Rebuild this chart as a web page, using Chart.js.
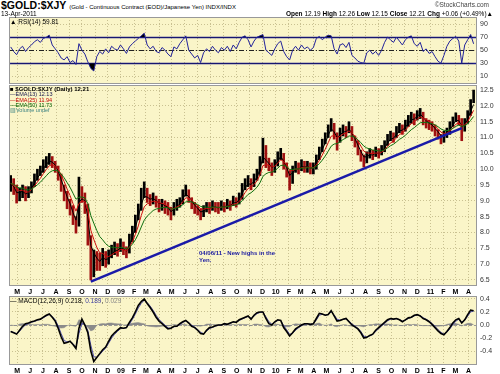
<!DOCTYPE html>
<html>
<head>
<meta charset="utf-8">
<title>$GOLD:$XJY</title>
<script src="https://cdn.jsdelivr.net/npm/chart.js@4.4.1/dist/chart.umd.min.js"></script>
<style>
  html, body { margin: 0; padding: 0; background: #fff; }
  body { width: 500px; height: 374px; position: relative; overflow: hidden;
         font-family: "Liberation Sans", Arial, sans-serif; color: #000; }
  canvas { position: absolute; left: 9px; }
  .t { position: absolute; white-space: nowrap; z-index: 2; }
  .lg { position: absolute; left: 10px; white-space: nowrap; z-index: 2; }
</style>
</head>
<body>
<canvas id="rsi" width="491" height="67" style="top:17px"></canvas>
<canvas id="price" width="491" height="211" style="top:85px"></canvas>
<canvas id="macd" width="491" height="78" style="top:296px"></canvas>

<div class="t" style="left:1px;top:0px;font-size:10px;line-height:10px"><b style="font-size:10.5px">$GOLD:$XJY</b> <span style="font-size:6px">(Gold - Continuous Contract (EOD)/Japanese Yen) INDX/INDX</span></div>
<div class="t" style="left:1px;top:10px;font-size:6.5px;line-height:7px">13-Apr-2011</div>
<div class="t" style="right:11px;top:1px;font-size:6.5px;line-height:7px;color:#444">©StockCharts.com</div>
<div class="t" style="right:7px;top:10px;font-size:6.5px;line-height:7px"><b>Open</b> 12.19 <b>High</b> 12.26 <b>Low</b> 12.15 <b>Close</b> 12.21 <b>Chg</b> +0.06 (+0.49%)▲</div>

<div class="lg" style="top:18px;font-size:6.5px;line-height:7px">▲ RSI(14) 59.81</div>

<div class="lg" style="top:87px;font-size:5.5px;line-height:5.3px">
  <div style="font-size:6px;font-weight:bold">■ $GOLD:$XJY (Daily) 12.21</div>
  <div style="color:#1a1a50">—EMA(13) 12.13</div>
  <div style="color:#c00000">—EMA(25) 11.94</div>
  <div style="color:#006000">—EMA(50) 11.73</div>
  <div style="color:#3a8080">▥Volume undef</div>
</div>

<div class="t" style="left:199px;top:250px;font-size:6px;font-weight:bold;color:#1a1aa0;line-height:7px">04/06/11 - New highs in the<br>Yen.</div>

<div class="lg" style="top:297px;font-size:6.5px;line-height:7px">— MACD(12,26,9) 0.218, <span style="color:#4040a0">0.189</span>, <span style="color:#888">0.029</span></div>

<script>
// weekly bars, first week starting Mon 14-Apr-2008
const firstWeek = '2008-04-14';

const close = [
  9.55, 9.40, 9.10, 9.25, 9.35, 9.15, 9.30, 9.50, 9.70, 9.85,
  9.95, 10.15, 10.25, 10.35, 10.20, 10.05, 9.80, 9.45, 9.20, 8.90,
  8.75, 8.40, 8.20, 9.40, 9.15, 8.95, 8.10, 6.85, 7.20, 7.05,
  7.00, 7.30, 7.10, 7.20, 7.40, 7.50, 7.45, 7.60, 7.45, 7.35,
  7.75, 8.05, 8.40, 8.75, 9.20, 9.35, 9.10, 9.00, 9.10, 8.95,
  8.85, 8.90, 8.80, 8.75, 8.55, 8.80, 8.90, 8.95, 9.20, 9.35,
  9.05, 8.90, 8.75, 8.70, 8.55, 8.70, 8.80, 8.75, 8.85, 8.80,
  8.75, 8.85, 8.80, 8.90, 8.85, 9.00, 8.95, 9.10, 9.40, 9.55,
  9.65, 9.50, 9.70, 9.85, 10.20, 10.70, 10.20, 10.10, 9.95, 10.15,
  10.40, 10.50, 10.15, 9.90, 9.60, 9.95, 10.10, 10.00, 10.15, 10.05,
  10.10, 10.00, 10.05, 10.30, 10.55, 10.80, 11.00, 11.25, 11.45, 11.10,
  10.85, 11.15, 11.25, 11.20, 11.35, 11.00, 10.85, 10.60, 10.40, 10.25,
  10.40, 10.50, 10.45, 10.55, 10.50, 10.60, 10.75, 10.95, 11.05, 11.00,
  11.20, 11.30, 11.25, 11.40, 11.55, 11.65, 11.60, 11.75, 11.80, 11.55,
  11.45, 11.40, 11.35, 11.20, 11.10, 10.95, 11.05, 11.15, 11.35, 11.50,
  11.65, 11.55, 11.20, 11.45, 11.70, 12.05, 12.21
];
const high = [
  9.80, 9.70, 9.50, 9.40, 9.50, 9.45, 9.45, 9.60, 9.85, 10.00,
  10.10, 10.30, 10.40, 10.50, 10.40, 10.25, 10.10, 9.85, 9.50, 9.30,
  9.05, 8.85, 8.50, 9.75, 9.45, 9.25, 8.90, 7.90, 7.45, 7.40,
  7.35, 7.50, 7.40, 7.45, 7.60, 7.70, 7.65, 7.80, 7.70, 7.55,
  7.95, 8.20, 8.55, 8.90, 9.40, 9.60, 9.40, 9.20, 9.25, 9.15,
  9.05, 9.05, 9.00, 8.95, 8.80, 8.95, 9.05, 9.10, 9.35, 9.50,
  9.35, 9.10, 8.95, 8.85, 8.75, 8.85, 8.95, 8.95, 9.00, 8.95,
  8.95, 9.00, 8.95, 9.05, 9.00, 9.15, 9.10, 9.25, 9.55, 9.70,
  9.80, 9.70, 9.85, 10.00, 10.40, 10.98, 10.75, 10.35, 10.20, 10.30,
  10.55, 10.66, 10.50, 10.20, 9.95, 10.10, 10.25, 10.20, 10.30, 10.25,
  10.25, 10.20, 10.20, 10.45, 10.70, 10.95, 11.15, 11.40, 11.60, 11.45,
  11.15, 11.30, 11.40, 11.35, 11.50, 11.35, 11.05, 10.90, 10.60, 10.45,
  10.55, 10.65, 10.60, 10.70, 10.65, 10.75, 10.90, 11.10, 11.20, 11.15,
  11.35, 11.45, 11.40, 11.55, 11.70, 11.80, 11.75, 11.85, 11.92, 11.80,
  11.60, 11.55, 11.50, 11.40, 11.25, 11.10, 11.20, 11.30, 11.50, 11.65,
  11.78, 11.70, 11.60, 11.60, 11.85, 12.20, 12.50
];
const low = [
  9.30, 9.20, 8.93, 9.00, 9.10, 9.00, 9.10, 9.25, 9.45, 9.65,
  9.80, 9.90, 10.05, 10.15, 10.05, 9.90, 9.65, 9.30, 9.00, 8.75,
  8.55, 8.25, 7.98, 8.20, 8.95, 8.60, 7.60, 6.50, 6.60, 6.80,
  6.80, 6.95, 6.90, 7.00, 7.20, 7.30, 7.25, 7.40, 7.30, 7.20,
  7.35, 7.70, 8.00, 8.40, 8.70, 9.10, 8.95, 8.85, 8.90, 8.80,
  8.65, 8.70, 8.60, 8.55, 8.40, 8.55, 8.70, 8.80, 8.90, 9.15,
  8.95, 8.75, 8.60, 8.55, 8.40, 8.50, 8.65, 8.60, 8.70, 8.65,
  8.60, 8.70, 8.65, 8.75, 8.70, 8.85, 8.80, 8.90, 9.05, 9.35,
  9.45, 9.35, 9.45, 9.65, 9.80, 10.20, 10.05, 9.95, 9.80, 9.90,
  10.10, 10.30, 10.00, 9.75, 9.34, 9.55, 9.90, 9.85, 9.95, 9.90,
  9.90, 9.85, 9.85, 10.00, 10.30, 10.55, 10.80, 11.00, 11.20, 10.95,
  10.60, 10.85, 11.05, 11.00, 11.15, 10.90, 10.70, 10.45, 10.25, 10.07,
  10.20, 10.35, 10.30, 10.40, 10.35, 10.45, 10.55, 10.75, 10.90, 10.85,
  11.00, 11.15, 11.10, 11.20, 11.35, 11.45, 11.40, 11.55, 11.60, 11.40,
  11.30, 11.25, 11.20, 11.05, 10.95, 10.80, 10.85, 11.00, 11.10, 11.35,
  11.50, 11.40, 10.90, 11.20, 11.45, 11.70, 12.10
];
const rsi = [
  55, 48, 43, 52, 56, 48, 54, 58, 63, 66,
  62, 68, 70, 73, 58, 52, 46, 38, 35, 40,
  31, 34, 28, 60, 50, 44, 32, 22, 18, 40,
  48, 44, 52, 46, 56, 52, 50, 58, 52, 45,
  55, 60, 64, 68, 72, 76, 58, 52, 56, 48,
  46, 54, 50, 44, 40, 55, 52, 60, 66, 72,
  50, 44, 38, 42, 31, 46, 52, 48, 56, 50,
  46, 54, 50, 56, 48, 58, 52, 62, 70, 72,
  66, 55, 64, 70, 72, 74, 50, 46, 42, 52,
  60, 64, 48, 40, 35, 50, 56, 50, 58, 52,
  55, 50, 54, 68, 71, 66, 70, 73, 72, 52,
  44, 58, 60, 54, 62, 42, 38, 33, 31, 30,
  46, 50, 44, 48, 42, 50, 62, 70, 66, 62,
  70, 64, 58, 66, 70, 72, 60, 56, 62, 48,
  52, 45, 48, 40, 33, 30, 42, 56, 64, 68,
  71, 64, 30, 58, 66, 74, 59.81
];
const macd = [
  -0.10, -0.12, -0.14, -0.08, -0.02, 0.02, 0.03, 0.05, 0.06, 0.08,
  0.09, 0.12, 0.15, 0.17, 0.12, 0.06, -0.05, -0.18, -0.28, -0.27,
  -0.25, -0.30, -0.36, -0.05, 0.09, 0.00, -0.12, -0.40, -0.56, -0.50,
  -0.44, -0.38, -0.34, -0.25, -0.17, -0.12, -0.08, -0.04, -0.05, -0.04,
  0.04, 0.11, 0.20, 0.30, 0.36, 0.40, 0.33, 0.27, 0.20, 0.12,
  0.06, 0.02, -0.02, -0.06, -0.05, -0.02, -0.02, 0.02, 0.05, 0.07,
  0.03, -0.02, -0.04, -0.08, -0.13, -0.14, -0.08, -0.04, -0.03, -0.01,
  0.00, 0.00, 0.02, 0.01, 0.03, 0.05, 0.04, 0.08, 0.10, 0.12,
  0.14, 0.09, 0.15, 0.19, 0.20, 0.20, 0.10, 0.02, 0.00, 0.05,
  0.08, 0.07, -0.04, -0.10, -0.17, -0.12, -0.06, -0.03, 0.00, 0.02,
  0.02, 0.01, 0.02, 0.10, 0.18, 0.17, 0.15, 0.16, 0.22, 0.14,
  0.06, 0.07, 0.09, 0.10, 0.05, 0.00, -0.03, -0.06, -0.12, -0.20,
  -0.19, -0.16, -0.14, -0.08, -0.04, 0.00, 0.04, 0.08, 0.10, 0.09,
  0.10, 0.08, 0.05, 0.08, 0.11, 0.12, 0.15, 0.16, 0.14, 0.10,
  0.08, 0.05, 0.01, -0.04, -0.09, -0.13, -0.15, -0.10, -0.04, 0.03,
  0.08, 0.10, 0.03, 0.08, 0.16, 0.23, 0.218
];

// trendline drawn on the price panel
const trendDates = ['2008-10-22', '2011-03-16'];
const trendValues = [6.45, 11.30];

const monthLabels = ['M','J','J','A','S','O','N','D','09','F','M','A','M','J','J','A','S','O','N','D',
                     '10','F','M','A','M','J','J','A','S','O','N','D','11','F','M','A'];
const priceTicks = [6.5, 7.0, 7.5, 8.0, 8.5, 9.0, 9.5, 10.0, 10.5, 11.0, 11.5, 12.0, 12.5];
const rsiTicks = [10, 30, 50, 70, 90];
const macdTicks = [-0.4, -0.2, 0.0, 0.2, 0.4];

// ---- helpers
const day0 = Date.parse(firstWeek);
const toDay = s => (Date.parse(s) - day0) / 864e5;
const weekX = close.map((_, i) => 7 * i + 2);
const monthDays = monthLabels.map((_, k) => (Date.UTC(2008, 4 + k, 1) - day0) / 864e5);
const pts = arr => arr.map((v, i) => ({ x: weekX[i], y: v }));

// daily EMA periods applied to weekly bars (5 sessions per week)
function ema(src, n) {
  const a = 2 / (n / 5 + 1);
  let e = src[0];
  return src.map(v => (e = e + a * (v - e)));
}

const gridColor = 'rgba(160,150,100,0.55)';
const plotBg = '#faf5c8';

const panel = {
  id: 'panel',
  beforeDraw(chart) {
    const { ctx, chartArea: a } = chart;
    ctx.save();
    ctx.fillStyle = plotBg;
    ctx.fillRect(a.left, a.top, a.width, a.height);
    ctx.restore();
  },
  beforeDatasetsDraw(chart, args, opts) {
    const { ctx, chartArea: a } = chart;
    const y = chart.scales.y;
    (opts.levels || []).forEach(l => {
      const py = Math.round(y.getPixelForValue(l.value)) + 0.5;
      ctx.save();
      ctx.strokeStyle = l.color;
      ctx.lineWidth = l.width;
      ctx.setLineDash(l.dash || []);
      ctx.beginPath();
      ctx.moveTo(a.left, py);
      ctx.lineTo(a.right, py);
      ctx.stroke();
      ctx.restore();
    });
  },
  afterDraw(chart) {
    const { ctx, chartArea: a } = chart;
    ctx.save();
    ctx.strokeStyle = '#999';
    ctx.lineWidth = 1;
    ctx.strokeRect(a.left + 0.5, a.top + 0.5, a.width - 1, a.height - 1);
    ctx.restore();
  }
};

function xAxis(labelH) {
  return {
    type: 'linear', min: -2, max: 1102, offset: false,
    afterBuildTicks: s => { s.ticks = monthDays.map(v => ({ value: v })); },
    afterFit: s => { s.height = labelH; s.paddingLeft = 0; s.paddingRight = 0; },
    ticks: {
      display: labelH > 0, autoSkip: false, maxRotation: 0, padding: 2, color: '#000',
      font: { size: 7, weight: 'bold' },
      callback: (v, i) => monthLabels[i]
    },
    grid: { color: gridColor, offset: false, drawTicks: false },
    border: { display: false, dash: [1, 2] }
  };
}

function yAxis(min, max, ticks, digits) {
  return {
    position: 'right', min, max,
    afterBuildTicks: s => { s.ticks = ticks.map(v => ({ value: v })); },
    afterFit: s => { s.width = 23; s.paddingTop = 0; s.paddingBottom = 0; },
    ticks: { padding: 3, color: '#333', font: { size: 7 }, callback: v => v.toFixed(digits) },
    grid: { color: gridColor, drawTicks: false },
    border: { display: false, dash: [1, 2] }
  };
}

function baseOptions(extra) {
  return Object.assign({
    responsive: false,
    animation: false,
    devicePixelRatio: 1,
    layout: { padding: 0 },
    elements: { point: { radius: 0 }, line: { tension: 0 } },
    plugins: { legend: { display: false }, tooltip: { enabled: false } }
  }, extra);
}

Chart.defaults.font.family = '"Liberation Sans", Arial, sans-serif';

// ---- RSI panel
new Chart(document.getElementById('rsi'), {
  type: 'line',
  data: {
    datasets: [
      { data: pts(rsi), borderColor: '#23239a', borderWidth: 1,
        fill: { target: { value: 70 }, above: '#000', below: 'rgba(0,0,0,0)' } },
      { data: pts(rsi), borderWidth: 0, borderColor: 'rgba(0,0,0,0)',
        fill: { target: { value: 30 }, above: 'rgba(0,0,0,0)', below: '#000' } }
    ]
  },
  options: baseOptions({
    scales: { x: xAxis(0), y: yAxis(-2, 101, rsiTicks, 0) },
    plugins: {
      legend: { display: false }, tooltip: { enabled: false },
      panel: { levels: [
        { value: 70, color: '#1c1c8c', width: 1.5 },
        { value: 30, color: '#1c1c8c', width: 1.5 },
        { value: 50, color: '#222', width: 1, dash: [5, 2, 1, 2] }
      ] }
    }
  }),
  plugins: [panel]
});

// ---- price panel
const barColors = close.map((c, i) => (i > 0 && c < close[i - 1]) ? '#a01010' : '#000');
new Chart(document.getElementById('price'), {
  type: 'line',
  data: {
    datasets: [
      { type: 'bar', data: weekX.map((x, i) => ({ x, y: [low[i], high[i]] })),
        backgroundColor: barColors, barThickness: 2, order: 5 },
      { data: pts(ema(close, 13)), borderColor: '#000', borderWidth: 1, order: 3 },
      { data: pts(ema(close, 25)), borderColor: '#d01010', borderWidth: 1, order: 2 },
      { data: pts(ema(close, 50)), borderColor: '#107010', borderWidth: 1, order: 1 },
      { data: trendDates.map((d, i) => ({ x: toDay(d), y: trendValues[i] })),
        borderColor: '#1a1aa8', borderWidth: 2.5, order: 0 }
    ]
  },
  options: baseOptions({
    scales: { x: xAxis(10), y: yAxis(6.31, 12.66, priceTicks, 1) },
    plugins: { legend: { display: false }, tooltip: { enabled: false }, panel: { levels: [] } }
  }),
  plugins: [panel]
});

// ---- MACD panel
const signal = ema(macd, 9);
const hist = macd.map((v, i) => v - signal[i]);
new Chart(document.getElementById('macd'), {
  type: 'line',
  data: {
    datasets: [
      { data: pts(hist), borderColor: '#8a8a8a', backgroundColor: '#8a8a8a',
        borderWidth: 0.5, fill: 'origin', order: 3 },
      { data: pts(signal), borderColor: '#5050b0', borderWidth: 1, order: 2 },
      { data: pts(macd), borderColor: '#000', borderWidth: 1.6, order: 1 }
    ]
  },
  options: baseOptions({
    scales: { x: xAxis(9), y: yAxis(-0.615, 0.446, macdTicks, 1) },
    plugins: {
      legend: { display: false }, tooltip: { enabled: false },
      panel: { levels: [{ value: 0, color: '#999', width: 1, dash: [3, 2] }] }
    }
  }),
  plugins: [panel]
});
</script>
</body>
</html>
